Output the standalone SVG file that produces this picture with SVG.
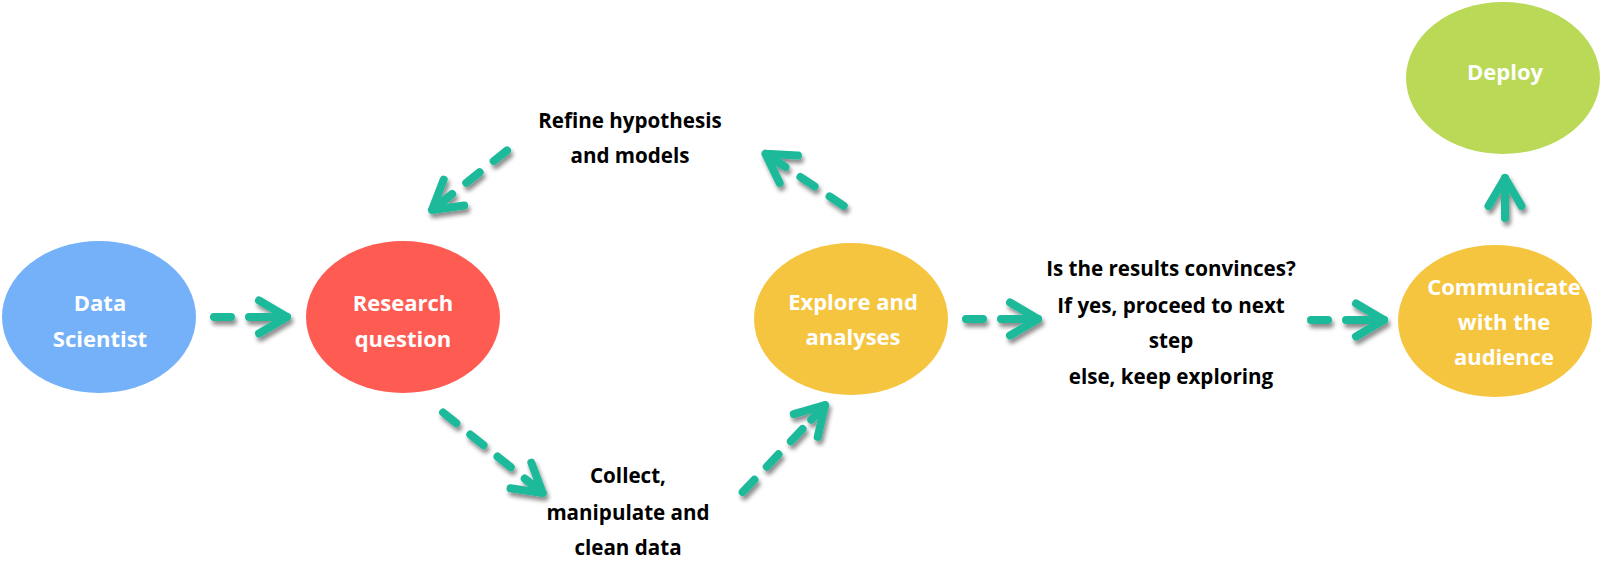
<svg xmlns="http://www.w3.org/2000/svg" width="1600" height="570" viewBox="0 0 1600 570">
<style>
.lbl{font-family:"Open Sans","DejaVu Sans",sans-serif;font-weight:700;text-anchor:middle}
.w{fill:#ffffff;font-size:22px}
.k{fill:#000000;font-size:20.6px}
.ln{fill:none;stroke:#1DB99A;stroke-width:8;stroke-linecap:round;stroke-linejoin:round}
.dash{stroke-dasharray:17 18}
</style>
<defs>
<filter id="sh" x="-20%" y="-20%" width="140%" height="140%">
<feDropShadow dx="2" dy="4" stdDeviation="2" flood-color="#000000" flood-opacity="0.45"/>
</filter>
<marker id="ah" markerUnits="userSpaceOnUse" markerWidth="50" markerHeight="50" viewBox="-40 -25 50 50" refX="0" refY="0" orient="auto" overflow="visible">
<path d="M-28,-16.5 L0,0 L-28,16.5 M0,0 L-20,0" fill="none" stroke="#1DB99A" stroke-width="8" stroke-linecap="round" stroke-linejoin="round"/>
</marker>
</defs>
<rect width="1600" height="570" fill="#ffffff"/>
<g id="data-scientist">
<ellipse cx="99" cy="317" rx="97" ry="76" fill="#74B1F8"/>
<text class="lbl w" x="100" y="311">Data</text>
<text class="lbl w" x="100" y="347">Scientist</text>
</g>
<g id="research-question">
<ellipse cx="403" cy="317" rx="97" ry="76" fill="#FE5B53"/>
<text class="lbl w" x="403" y="311">Research</text>
<text class="lbl w" x="403" y="347">question</text>
</g>
<g id="explore">
<ellipse cx="851" cy="319" rx="97" ry="76" fill="#F5C540"/>
<text class="lbl w" x="853" y="310">Explore and</text>
<text class="lbl w" x="853" y="345">analyses</text>
</g>
<g id="communicate">
<ellipse cx="1495" cy="321" rx="97" ry="76" fill="#F5C540"/>
<text class="lbl w" x="1504" y="295">Communicate</text>
<text class="lbl w" x="1504" y="330">with the</text>
<text class="lbl w" x="1504" y="365">audience</text>
</g>
<g id="deploy">
<ellipse cx="1503" cy="78" rx="97" ry="76" fill="#B9D957"/>
<text class="lbl w" x="1505" y="80">Deploy</text>
</g>
<g id="refine">
<text class="lbl k" x="630" y="128">Refine hypothesis</text>
<text class="lbl k" x="630" y="163">and models</text>
</g>
<g id="collect">
<text class="lbl k" x="628" y="483">Collect,</text>
<text class="lbl k" x="628" y="520">manipulate and</text>
<text class="lbl k" x="628" y="555">clean data</text>
</g>
<g id="decision">
<text class="lbl k" x="1171" y="276">Is the results convinces?</text>
<text class="lbl k" x="1171" y="313">If yes, proceed to next</text>
<text class="lbl k" x="1171" y="348">step</text>
<text class="lbl k" x="1171" y="384">else, keep exploring</text>
</g>
<g id="connectors" filter="url(#sh)">
<line class="ln dash" x1="214" y1="317" x2="287" y2="317" marker-end="url(#ah)"/>
<line class="ln dash" x1="507" y1="150.5" x2="432" y2="210" marker-end="url(#ah)"/>
<line class="ln dash" x1="843.7" y1="205.8" x2="765.5" y2="153.7" marker-end="url(#ah)"/>
<line class="ln dash" x1="443.1" y1="412.5" x2="542.7" y2="493.1" marker-end="url(#ah)"/>
<line class="ln dash" x1="742.7" y1="492.1" x2="825" y2="405.2" marker-end="url(#ah)"/>
<line class="ln dash" x1="966" y1="319" x2="1038" y2="319" marker-end="url(#ah)"/>
<line class="ln dash" x1="1311" y1="320" x2="1384" y2="320" marker-end="url(#ah)"/>
<line class="ln" x1="1505" y1="218" x2="1505" y2="178" marker-end="url(#ah)"/>
</g>
</svg>
